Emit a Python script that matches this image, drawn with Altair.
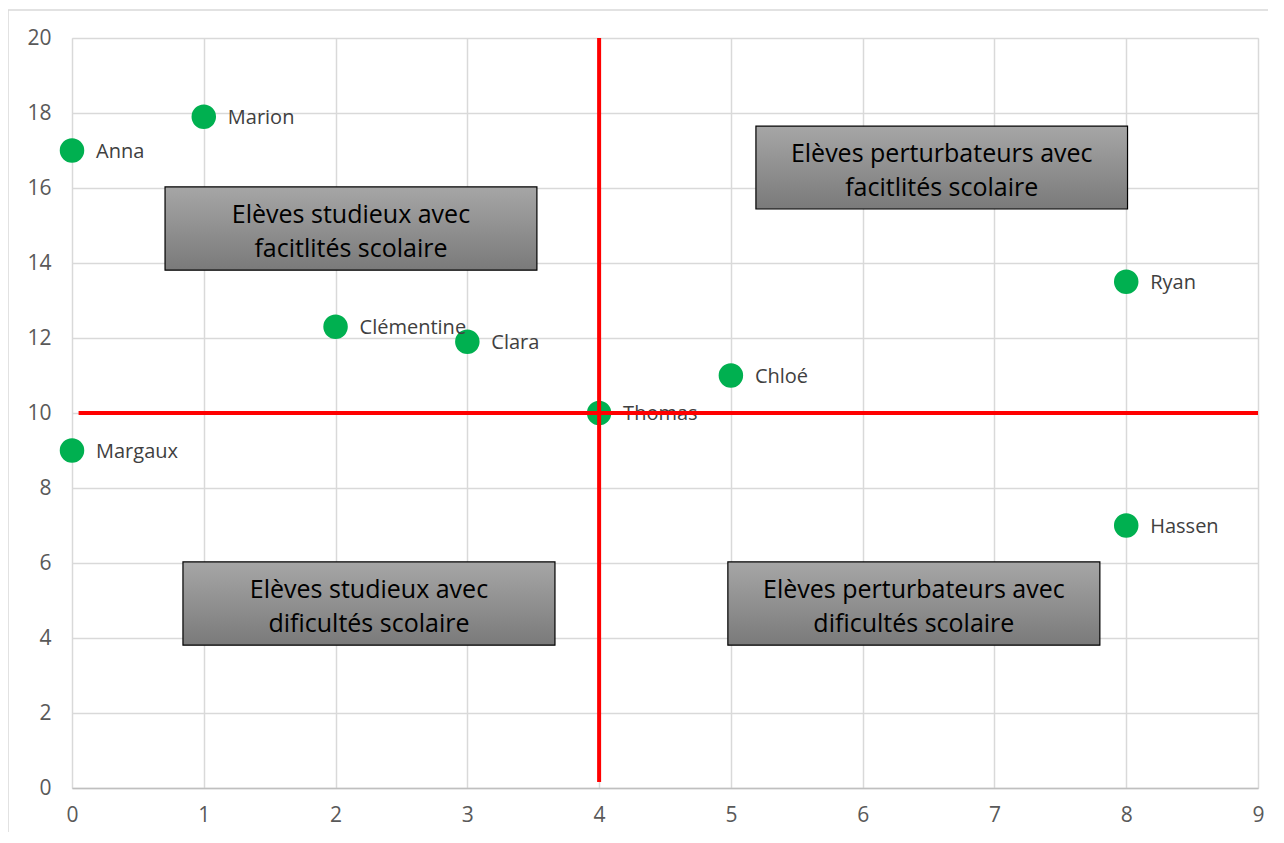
import altair as alt
import pandas as pd

names = ["Anna", "Marion", "Clémentine", "Clara", "Thomas", "Chloé", "Margaux", "Ryan", "Hassen"]
xs = [0, 1, 2, 3, 4, 5, 0, 8, 8]
ys = [17, 17.9, 12.3, 11.9, 10, 11, 9, 13.5, 7]

box_text = ["Elèves studieux avec\nfacitlités scolaire",
            "Elèves perturbateurs avec\nfacitlités scolaire",
            "Elèves studieux avec\ndificultés scolaire",
            "Elèves perturbateurs avec\ndificultés scolaire"]
box_x1 = [0.706, 5.19, 0.842, 4.977]
box_x2 = [3.528, 8.01, 3.665, 7.80]
box_y1 = [16.03, 17.65, 6.03, 6.03]
box_y2 = [13.81, 15.44, 3.81, 3.81]

line_x1 = [4, 0.05]
line_x2 = [4, 9]
line_y1 = [0.16, 10]
line_y2 = [20, 10]

pts = pd.DataFrame({"name": names, "x": xs, "y": ys})
boxes = pd.DataFrame({"t": box_text, "x1": box_x1, "x2": box_x2, "y1": box_y1, "y2": box_y2})
boxes["xm"] = (boxes.x1 + boxes.x2) / 2
boxes["ym"] = (boxes.y1 + boxes.y2) / 2
lines = pd.DataFrame({"x1": line_x1, "x2": line_x2, "y1": line_y1, "y2": line_y2})

FONT = "Open Sans"
xsc = alt.Scale(domain=[0, 9], nice=False)
ysc = alt.Scale(domain=[0, 20], nice=False)
xax = alt.Axis(values=list(range(0, 10)), format="d", labelFlush=False, grid=True,
               gridColor="#d9d9d9", gridWidth=1.5,
               domainColor="#bfbfbf", domainWidth=1.5, ticks=False, labelFontSize=21,
               labelColor="#595959", labelFont=FONT, labelPadding=16, title=None)
yax = alt.Axis(values=list(range(0, 21, 2)), format="d", labelFlush=False, grid=True,
               gridColor="#d9d9d9", gridWidth=1.5,
               domain=False, ticks=False, labelFontSize=21, labelColor="#595959",
               labelFont=FONT, labelPadding=21, title=None)

# chart-area frame (decoration only)
frame = alt.Chart(pd.DataFrame({"k": [0]})).mark_rect(
    fill="white", fillOpacity=0, stroke="#d9d9d9", strokeWidth=1.5).encode(
    x=alt.value(-64), x2=alt.value(1300), y=alt.value(-28), y2=alt.value(900))

base_pts = alt.Chart(pts)
points = base_pts.mark_circle(size=600, opacity=1, color="#00b050").encode(
    x=alt.X("x:Q", scale=xsc, axis=xax), y=alt.Y("y:Q", scale=ysc, axis=yax))
labels = base_pts.mark_text(align="left", baseline="middle", dx=24, dy=1, fontSize=20,
                            font=FONT, color="#404040").encode(
    x=alt.X("x:Q", scale=xsc), y=alt.Y("y:Q", scale=ysc), text="name:N")

grad = alt.Gradient(gradient="linear", x1=0, x2=0, y1=0, y2=1,
                    stops=[alt.GradientStop(color="#a6a6a6", offset=0),
                           alt.GradientStop(color="#7a7a7a", offset=1)])
rects = alt.Chart(boxes).mark_rect(color=grad, stroke="#000000", strokeWidth=1.2).encode(
    x=alt.X("x1:Q", scale=xsc), x2="x2:Q", y=alt.Y("y1:Q", scale=ysc), y2="y2:Q")
btext = alt.Chart(boxes).mark_text(align="center", baseline="middle", fontSize=25, font=FONT,
                                   color="#000000", lineBreak="\n", lineHeight=34,
                                   dy=-14).encode(
    x=alt.X("xm:Q", scale=xsc), y=alt.Y("ym:Q", scale=ysc), text="t:N")

rules = alt.Chart(lines).mark_rule(color="#ff0000", strokeWidth=4).encode(
    x=alt.X("x1:Q", scale=xsc), x2="x2:Q", y=alt.Y("y1:Q", scale=ysc), y2="y2:Q")

chart = alt.layer(frame, rects, btext, points, labels, rules).properties(
    width=1186, height=750,
    autosize=alt.AutoSizeParams(type="none"),
    padding={"left": 64, "top": 30, "right": 10, "bottom": 44},
).configure_view(stroke=None).configure(background="white")

chart.save("out.html", embed_options={"renderer": "svg", "actions": False})
